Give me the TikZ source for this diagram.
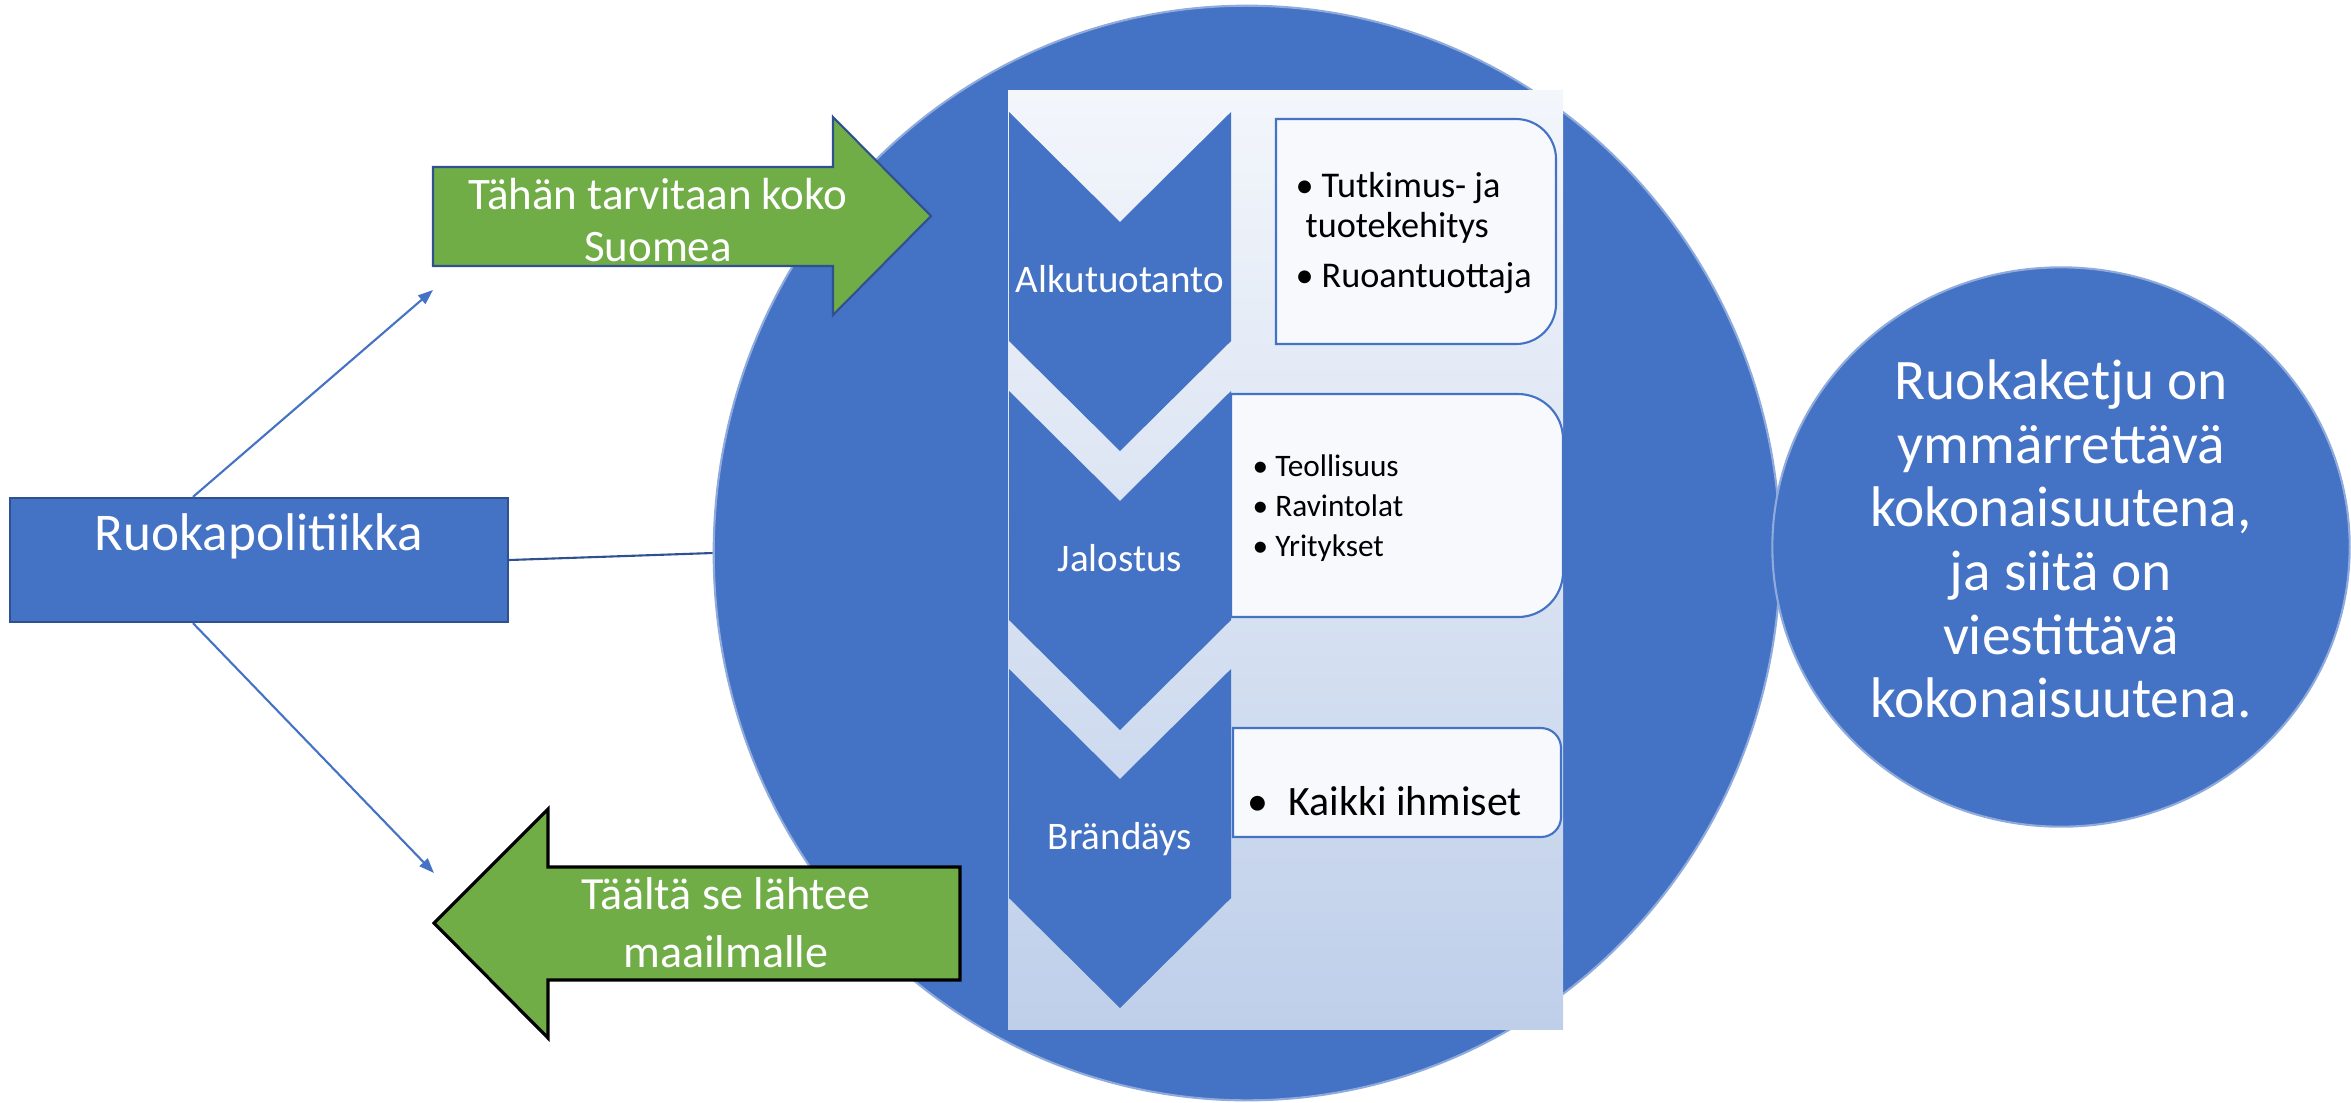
\documentclass[tikz,border=0pt]{standalone}
\usepackage{fontspec}
\setmainfont{Carlito}
\usetikzlibrary{arrows.meta,
                shapes.geometric
            }
\definecolor{officeblue}{RGB}{68,114,196}
\definecolor{darkblue}{RGB}{47,82,143}
\definecolor{paleblue}{RGB}{143,170,220}
\definecolor{leafgreen}{RGB}{112,173,71}
\definecolor{boxwhite}{RGB}{248,249,253}
\definecolor{shadetop}{RGB}{243,246,251}
\definecolor{shadebottom}{RGB}{191,207,234}

\begin{document}
\begin{tikzpicture}[x=0.01cm, y=-0.01cm,
    bigdisc/.style={ellipse, fill=officeblue, draw=paleblue, line width=0.6pt, inner sep=0pt},
    policybox/.style={rectangle, fill=officeblue, draw=darkblue, line width=0.6pt,
                      minimum width=4.98cm, minimum height=1.24cm, inner sep=0pt},
    link/.style={officeblue, line width=0.6pt, -{Triangle[length=0.15cm, width=0.11cm]}},
    itembox/.style={fill=boxwhite, draw=officeblue, line width=0.6pt},
    whitetext/.style={text=white, inner sep=0pt},
    blacktext/.style={text=black, inner sep=0pt, align=left}
    ]
            \useasboundingbox (0,0) rectangle (2351,1102);

            % the two discs
            \node[bigdisc, minimum width=10.66cm, minimum height=10.94cm] (chain) at (1247,553) {};
            \node[bigdisc, minimum width=5.77cm, minimum height=5.59cm] (summary) at (2061,547) {};
            \node[whitetext, align=center, font=\fontsize{16.3}{18.1}\selectfont] (summarytext) at (2061,539)
                {Ruokaketju on\\ymmärrettävä\\kokonaisuutena,\\ja siitä on\\viestittävä\\kokonaisuutena.};

            % policy box and its lines
            \node[policybox] (policy) at (259,560) {};
            \node[whitetext, font=\fontsize{15.1}{18}\selectfont, anchor=base] (policylabel) at (259,550) {Ruokapolitiikka};
            \coordinate (upEnd) at (433,290);
            \coordinate (downEnd) at (434,873);
            \draw[link] ([xshift=-0.66cm]policy.north) -- (upEnd);
            \draw[link] ([xshift=-0.66cm]policy.south) -- (downEnd);
            \draw[darkblue, line width=0.6pt] (policy.east) -- (chain.west);

            % green block arrows
            \draw[fill=leafgreen, draw=darkblue, line width=0.6pt] (433,167) -- (833,167) -- (833,117) -- (931,216)
                -- (833,315) -- (833,266) -- (433,266) -- cycle;
            \node[whitetext, align=center, font=\fontsize{12.8}{15}\selectfont] (needall) at (658,220)
                {Tähän tarvitaan koko\\Suomea};
            \draw[fill=leafgreen, draw=black, line width=0.9pt] (960,867) -- (548,867) -- (548,809) -- (434,923)
                -- (548,1038) -- (548,980) -- (960,980) -- cycle;
            \node[whitetext, align=center, font=\fontsize{13.1}{16.5}\selectfont] (toworld) at (726,923)
                {Täältä se lähtee\\maailmalle};

            % chevron list
            \shade[top color=shadetop, bottom color=shadebottom] (1008,90) rectangle (1563,1029);
            \foreach \t/\name/\lab in {112/alku/Alkutuotanto, 391/jalo/Jalostus, 669/brand/Brändäys} {
                \fill[officeblue] (1009,\t) -- (1120,\t+110) -- (1231,\t) -- (1231,\t+229)
                    -- (1120,\t+339) -- (1009,\t+229) -- cycle;
                \node[whitetext, font=\fontsize{11.1}{13}\selectfont, anchor=base] (\name) at (1120,\t+180) {\lab};
            }

            % item boxes
            \draw[itembox] (1276,119) [rounded corners=0.4cm] -- (1556,119) -- (1556,344)
                [sharp corners] -- (1276,344) -- cycle;
            \draw[itembox] (1231,394) [rounded corners=0.45cm] -- (1563,394) -- (1563,617)
                [sharp corners] -- (1231,617) -- cycle;
            \draw[itembox] (1233,728) [rounded corners=0.2cm] -- (1561,728) -- (1561,837)
                [sharp corners] -- (1233,837) -- cycle;
            \node[blacktext, font=\fontsize{10.3}{11.4}\selectfont, anchor=west] (research) at (1295,233)
                {\textbullet\hspace{0.08cm}Tutkimus- ja\\\hspace{0.1cm}tuotekehitys\\[0.09cm]\textbullet\hspace{0.08cm}Ruoantuottaja};
            \node[blacktext, font=\fontsize{8.9}{11.4}\selectfont, anchor=west] (industry) at (1252,508)
                {\textbullet\hspace{0.07cm}Teollisuus\\\textbullet\hspace{0.07cm}Ravintolat\\\textbullet\hspace{0.07cm}Yritykset};
            \node[blacktext, font=\fontsize{11.9}{14}\selectfont, anchor=base west] (people) at (1247,815)
                {\textbullet\hspace{0.2cm}Kaikki ihmiset};
        \end{tikzpicture}
\end{document}
